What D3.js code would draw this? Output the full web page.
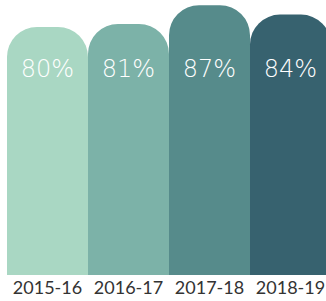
<!DOCTYPE html>
<html>
<head>
<meta charset="utf-8">
<script src="https://cdn.jsdelivr.net/npm/d3@7"></script>
<style>
  body { margin: 0; background: #fff; }
  svg { display: block; }
</style>
</head>
<body>
<div id="graf"></div>
<script>
// datos
anos = ['2015-16', '2016-17', '2017-18', '2018-19']
valores = [80, 81, 87, 84]
etiquetas = ['80%', '81%', '87%', '84%']
colores = ['#a9d7c3', '#7cb2a8', '#568b8b', '#37626f']

ancho_total = 326
alto_total = 301

svg = d3.select('#graf').append('svg')
        .attr('width', ancho_total)
        .attr('height', alto_total)

x = d3.scaleBand()
      .domain(anos)
      .range([7, 331])
      .padding(0)

y = d3.scaleLinear()
      .domain([0, 100])
      .range([275, -35])

radio = 30

// barra con esquinas superiores redondeadas
function barra(d, i) {
  x0 = x(anos[i])
  x1 = x0 + x.bandwidth()
  y0 = y(0)
  y1 = y(d)
  r = radio
  return `M${x0},${y0} L${x0},${y1 + r} A${r},${r} 0 0 1 ${x0 + r},${y1}
          L${x1 - r},${y1} A${r},${r} 0 0 1 ${x1},${y1 + r} L${x1},${y0} Z`
}

g = svg.append('g')

g.selectAll('path.barra')
  .data(valores)
  .enter()
  .append('path')
    .attr('class', 'barra')
    .attr('d', barra)
    .attr('fill', (d, i) => colores[i])

g.selectAll('text.valor')
  .data(etiquetas)
  .enter()
  .append('text')
    .attr('class', 'valor')
    .attr('x', (d, i) => x(anos[i]) + x.bandwidth() / 2)
    .attr('y', 77)
    .attr('text-anchor', 'middle')
    .style('font-family', 'DejaVu Sans')
    .style('font-weight', 200)
    .style('font-size', '24px')
    .style('fill', '#fff')
    .text(d => d)

// eje x
xAxis = d3.axisBottom(x).tickSize(0).tickPadding(0)
eje = svg.append('g')
         .attr('transform', `translate(0, 281)`)
         .call(xAxis)
eje.select('.domain').remove()
eje.selectAll('text')
   .attr('dy', '0.71em')
   .style('font-family', 'Lato')
   .style('font-size', '18px')
   .style('fill', '#333')
</script>
</body>
</html>
